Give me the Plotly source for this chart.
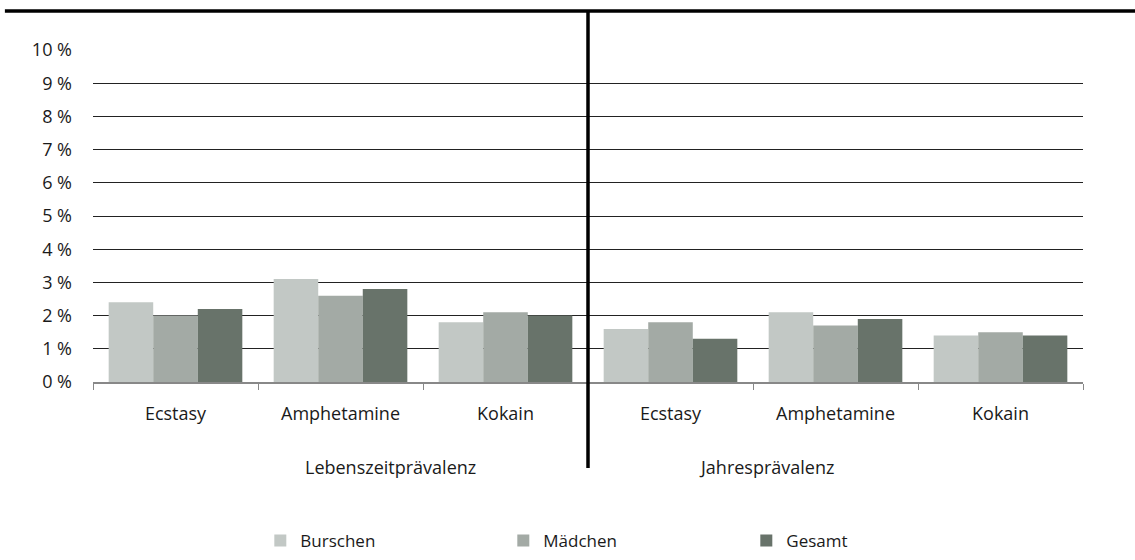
import plotly.graph_objects as go

groups = ["Lebenszeitprävalenz", "Jahresprävalenz"]
drugs = ["Ecstasy", "Amphetamine", "Kokain"]
categories = [f"{g} | {d}" for g in groups for d in drugs]
tick_labels = drugs + drugs
burschen = [2.4, 3.1, 1.8, 1.6, 2.1, 1.4]
maedchen = [2.0, 2.6, 2.1, 1.8, 1.7, 1.5]
gesamt = [2.2, 2.8, 2.0, 1.3, 1.9, 1.4]
series_names = ["Burschen", "Mädchen", "Gesamt"]
colors = ["#c2c8c5", "#a3aaa5", "#68736a"]
y_ticks = list(range(0, 11))
y_ticktext = [f"{v} %" for v in y_ticks]

FONT = "Open Sans"
FS = 18
fig = go.Figure()
for name, vals, col in zip(series_names, [burschen, maedchen, gesamt], colors):
    fig.add_trace(go.Bar(name=name, x=categories, y=vals, marker=dict(color=col, line=dict(width=0))))

fig.update_layout(
    width=1135, height=560,
    margin=dict(l=93, r=52, t=49, b=178, autoexpand=False),
    paper_bgcolor="white", plot_bgcolor="white",
    barmode="group", bargap=0.19, bargroupgap=0,
    font=dict(family=FONT, size=FS, color="#1a1a1a"),
    showlegend=True,
    legend=dict(orientation="h", x=0.169, xanchor="left", y=-0.477, yanchor="middle",
                entrywidth=198, entrywidthmode="pixels", font=dict(size=17),
                itemwidth=30, traceorder="normal"),
)
fig.update_xaxes(
    type="category", categoryorder="array", categoryarray=categories,
    tickmode="array", tickvals=categories, ticktext=tick_labels, tickson="boundaries",
    showline=True, linecolor="#888888", linewidth=2,
    ticks="outside", tickcolor="#888888", ticklen=6, tickwidth=1,
    showgrid=False, tickfont=dict(size=FS), ticklabelstandoff=14, automargin=False,
)
fig.update_yaxes(
    range=[0, 10.03], tickvals=y_ticks, ticktext=y_ticktext,
    showgrid=True, gridcolor="#222222", gridwidth=1, zeroline=False,
    showline=False, ticks="", ticklabelstandoff=20, tickfont=dict(size=FS), automargin=False,
)
group_label_x = [0.212, 0.7505]
for g, gx in zip(groups, group_label_x):
    fig.add_annotation(text=g, xref="paper", yref="paper", x=gx, y=-0.255,
                       showarrow=False, yanchor="middle", font=dict(size=FS))
fig.add_shape(type="line", xref="paper", yref="paper", x0=-0.089, x1=1.06, y0=1.114, y1=1.114,
              line=dict(color="black", width=3.5))
fig.add_shape(type="line", xref="paper", yref="paper", x0=0.5, x1=0.5, y0=1.114, y1=-0.258,
              line=dict(color="black", width=3.5))
fig.write_html("out.html")
